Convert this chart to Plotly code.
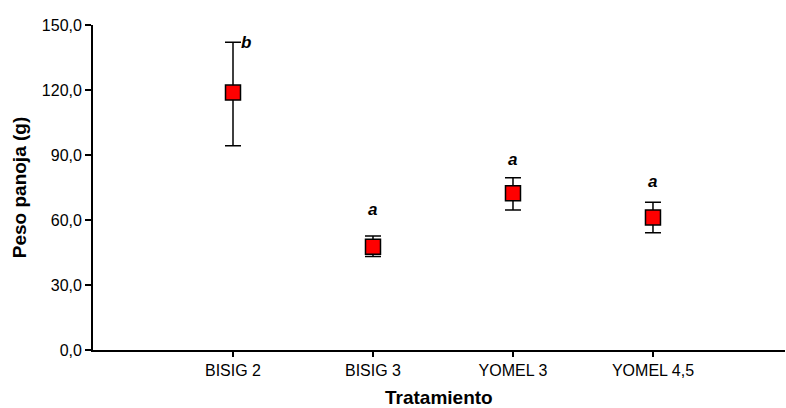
import plotly.graph_objects as go

categories = ["BISIG 2", "BISIG 3", "YOMEL 3", "YOMEL 4,5"]
means = [118.8, 47.7, 72.3, 61.2]
err_plus = [23.2, 4.9, 7.2, 7.0]
err_minus = [24.5, 4.6, 7.7, 7.1]
letters = ["b", "a", "a", "a"]
letter_y = [142.0, 64.6, 88.0, 77.7]
letter_xshift = [13, 0, 0, 0]
letter_yshift = [0, 1, 0, 0]
y_ticks = [0, 30, 60, 90, 120, 150]
x_title = "Tratamiento"
y_title = "Peso panoja (g)"

font_family = "Liberation Sans, Arial, sans-serif"

fig = go.Figure()
fig.add_trace(go.Scatter(
    x=categories, y=means, mode="markers",
    marker=dict(symbol="square", size=15, color="#ff0000",
                line=dict(color="black", width=1.5)),
    error_y=dict(type="data", symmetric=False, array=err_plus, arrayminus=err_minus,
                 color="black", thickness=1.5, width=8),
    showlegend=False,
))

for c, t, yv, xs, ys in zip(categories, letters, letter_y, letter_xshift, letter_yshift):
    fig.add_annotation(x=c, y=yv, text="<b><i>%s</i></b>" % t, showarrow=False,
                       xshift=xs, yshift=ys,
                       font=dict(family=font_family, size=17, color="black"))

# x-axis title placed as a paper annotation just under the tick labels
fig.add_annotation(x=0.5, y=0, xref="paper", yref="paper", text="<b>%s</b>" % x_title,
                   showarrow=False, yanchor="middle", yshift=-47, borderpad=0,
                   font=dict(family=font_family, size=19, color="black"))

fig.update_layout(
    width=786, height=408,
    margin=dict(l=93, r=1, t=25, b=58),
    paper_bgcolor="white", plot_bgcolor="white",
    separators=",.",
    font=dict(family=font_family, color="black"),
)
fig.update_xaxes(
    type="category", range=[-1, 3.943], automargin=False,
    showline=True, linecolor="black", linewidth=1.8,
    ticks="outside", ticklen=5, tickwidth=1.5, tickcolor="black",
    tickfont=dict(size=16, family=font_family),
    showgrid=False, zeroline=False,
)
fig.update_yaxes(
    range=[0, 150], tickvals=y_ticks, tickformat=".1f", automargin=False,
    showline=True, linecolor="black", linewidth=1.8,
    ticks="outside", ticklen=6, tickwidth=1.5, tickcolor="black",
    tickfont=dict(size=16, family=font_family),
    showgrid=False, zeroline=False,
    title=dict(text="<b>%s</b>" % y_title, font=dict(size=19, family=font_family), standoff=10),
)

fig.write_html("out.html",
               config={"displayModeBar": False},
               post_script="document.body.style.margin='0';document.body.style.overflow='hidden';")
